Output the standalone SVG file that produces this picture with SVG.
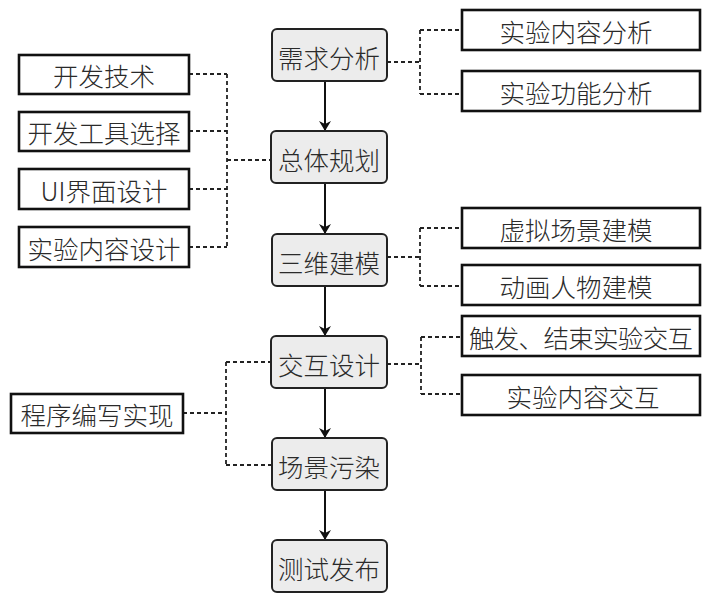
<svg xmlns="http://www.w3.org/2000/svg" width="708" height="600" viewBox="0 0 708 600">
<style>
.main rect{fill:#ececec;stroke:#222;stroke-width:2}
.side rect{fill:#fff;stroke:#111;stroke-width:2.6}
text{font-family:"Noto Sans CJK SC","Noto Sans",sans-serif;font-size:25.5px;font-weight:300;fill:#2a2a2a;text-anchor:middle;dominant-baseline:central}
.dash{fill:none;stroke:#222;stroke-width:1.8;stroke-dasharray:4 3}
.arr{stroke:#111;stroke-width:2;fill:none;marker-end:url(#ah)}
</style>
<defs>
<marker id="ah" viewBox="0 0 10 12" refX="10" refY="6" markerWidth="10" markerHeight="12" markerUnits="userSpaceOnUse" orient="auto">
<path d="M0,0 L10,6 L0,12 L3,6 Z" fill="#111"/>
</marker>
</defs>
<g id="connectors">
<line class="arr" x1="325" y1="81" x2="325" y2="131"/>
<line class="arr" x1="325" y1="183" x2="325" y2="234"/>
<line class="arr" x1="325" y1="286" x2="325" y2="336"/>
<line class="arr" x1="325" y1="388" x2="325" y2="438"/>
<line class="arr" x1="325" y1="490" x2="325" y2="540"/>
<path class="dash" d="M387,62 H420 M420,30 V94 M420,30 H462 M420,94 H462"/>
<path class="dash" d="M189,74 H227 M189,131 H227 M189,189 H227 M189,247 H227 M227,74 V247 M227,160 H270"/>
<path class="dash" d="M387,257 H420 M420,228 V286 M420,228 H462 M420,286 H462"/>
<path class="dash" d="M387,364 H421 M421,337 V394 M421,337 H462 M421,394 H462"/>
<path class="dash" d="M183,413 H226 M226,362 V465 M226,362 H271 M226,465 H271"/>
</g>
<g id="n1" class="main"><rect x="272" y="29" width="115" height="52" rx="5"/><text x="329" y="56">需求分析</text></g>
<g id="n2" class="main"><rect x="271" y="131" width="116" height="52" rx="5"/><text x="329" y="158">总体规划</text></g>
<g id="n3" class="main"><rect x="272" y="234" width="115" height="52" rx="5"/><text x="329" y="261">三维建模</text></g>
<g id="n4" class="main"><rect x="271" y="336" width="116" height="52" rx="5"/><text x="329" y="363">交互设计</text></g>
<g id="n5" class="main"><rect x="272" y="438" width="115" height="52" rx="5"/><text x="329" y="465">场景污染</text></g>
<g id="n6" class="main"><rect x="272" y="540" width="115" height="52" rx="5"/><text x="329" y="567">测试发布</text></g>
<g id="r1" class="side"><rect x="462" y="10" width="238" height="40"/><text x="576" y="30">实验内容分析</text></g>
<g id="r2" class="side"><rect x="462" y="71" width="238" height="40"/><text x="576" y="91">实验功能分析</text></g>
<g id="r3" class="side"><rect x="462" y="208" width="238" height="40"/><text x="576" y="228">虚拟场景建模</text></g>
<g id="r4" class="side"><rect x="462" y="265" width="238" height="40"/><text x="576" y="285">动画人物建模</text></g>
<g id="r5" class="side"><rect x="462" y="316" width="238" height="40"/><text x="581" y="336" textLength="224" lengthAdjust="spacing">触发、结束实验交互</text></g>
<g id="r6" class="side"><rect x="462" y="375" width="238" height="40"/><text x="583" y="395">实验内容交互</text></g>
<g id="l1" class="side"><rect x="19" y="55" width="170" height="39"/><text x="104" y="74">开发技术</text></g>
<g id="l2" class="side"><rect x="19" y="112" width="170" height="39"/><text x="104" y="131">开发工具选择</text></g>
<g id="l3" class="side"><rect x="19" y="169" width="170" height="40"/><text x="104" y="189">UI界面设计</text></g>
<g id="l4" class="side"><rect x="19" y="227" width="170" height="40"/><text x="104" y="247">实验内容设计</text></g>
<g id="l5" class="side"><rect x="11" y="394" width="172" height="39"/><text x="97" y="413">程序编写实现</text></g>
</svg>
